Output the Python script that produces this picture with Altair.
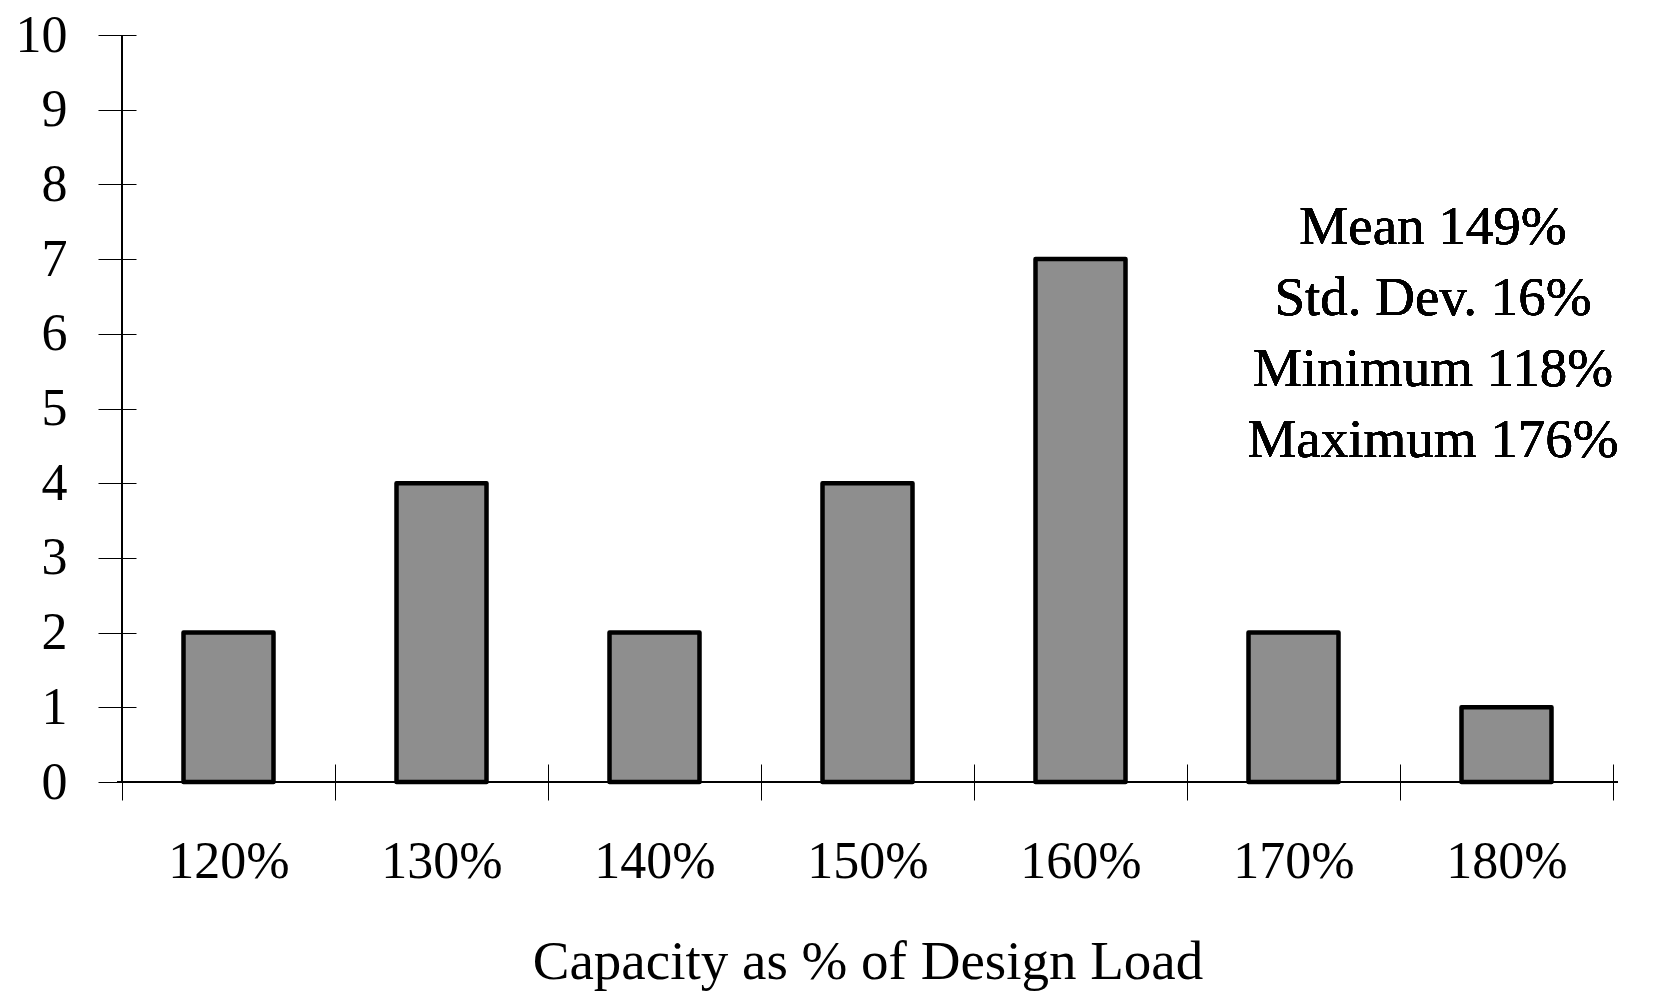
import altair as alt
import pandas as pd

categories = [120, 130, 140, 150, 160, 170, 180]
counts = [2, 4, 2, 4, 7, 2, 1]
x_ticks = [115, 120, 125, 130, 135, 140, 145, 150, 155, 160, 165, 170, 175, 180, 185]
y_ticks = [0, 1, 2, 3, 4, 5, 6, 7, 8, 9, 10]
stats_lines = ["Mean 149%", "Std. Dev. 16%", "Minimum 118%", "Maximum 176%"]
x_title = "Capacity as % of Design Load"

df = pd.DataFrame({"capacity": categories, "count": counts})

FONT = "Liberation Serif"
FS = 52

xscale = alt.Scale(domain=[115, 185], nice=False, zero=False)
yscale = alt.Scale(domain=[0, 10], nice=False)

x_axis = alt.Axis(
    values=x_ticks,
    title=x_title,
    labelExpr="datum.value % 10 == 0 ? datum.value + '%' : ''",
    tickOpacity={"condition": {"test": "datum.value % 10 == 5", "value": 1}, "value": 0},
    domain=False,
    grid=False,
    offset=-18,
    tickSize=36,
    tickColor="black",
    tickWidth=1,
    labelFont=FONT,
    labelFontSize=FS,
    labelColor="black",
    labelPadding=61,
    labelBaseline="middle",
    labelOverlap=False,
    labelFlush=False,
    titleFont=FONT,
    titleFontSize=55,
    titleFontWeight="normal",
    titleColor="black",
    titlePadding=48,
)

y_axis = alt.Axis(
    values=y_ticks,
    format="d",
    title=None,
    domain=False,
    grid=False,
    offset=-19,
    tickSize=38,
    tickColor="black",
    tickWidth=1,
    labelFont=FONT,
    labelFontSize=FS,
    labelColor="black",
    labelPadding=31,
)

bars = alt.Chart(df).mark_bar(
    width=90, fill="#8e8e8e", stroke="black", strokeWidth=4.5, strokeJoin="round"
).encode(
    x=alt.X("capacity:Q", scale=xscale, axis=x_axis),
    y=alt.Y("count:Q", scale=yscale, axis=y_axis),
)

x_line = alt.Chart(df).mark_rule(color="black", strokeWidth=1.2).encode(
    y=alt.datum(0, scale=yscale)
)
y_line = alt.Chart(df).mark_rule(color="black", strokeWidth=1.2).encode(
    x=alt.datum(115, scale=xscale)
)

stats = alt.Chart(df).mark_text(
    font=FONT, fontSize=55, color="black", align="center", baseline="middle",
    lineHeight=71,
).encode(
    x=alt.value(1316),
    y=alt.value(192),
    text=alt.value(stats_lines),
)

chart = alt.layer(x_line, y_line, bars, stats).properties(
    width=1501,
    height=747,
    autosize=alt.AutoSizeParams(type="none"),
    padding={"left": 109, "top": 27, "right": 17, "bottom": 215},
    background="white",
).configure_view(stroke=None)

chart.save("out.html", embed_options={"renderer": "svg", "actions": False})
